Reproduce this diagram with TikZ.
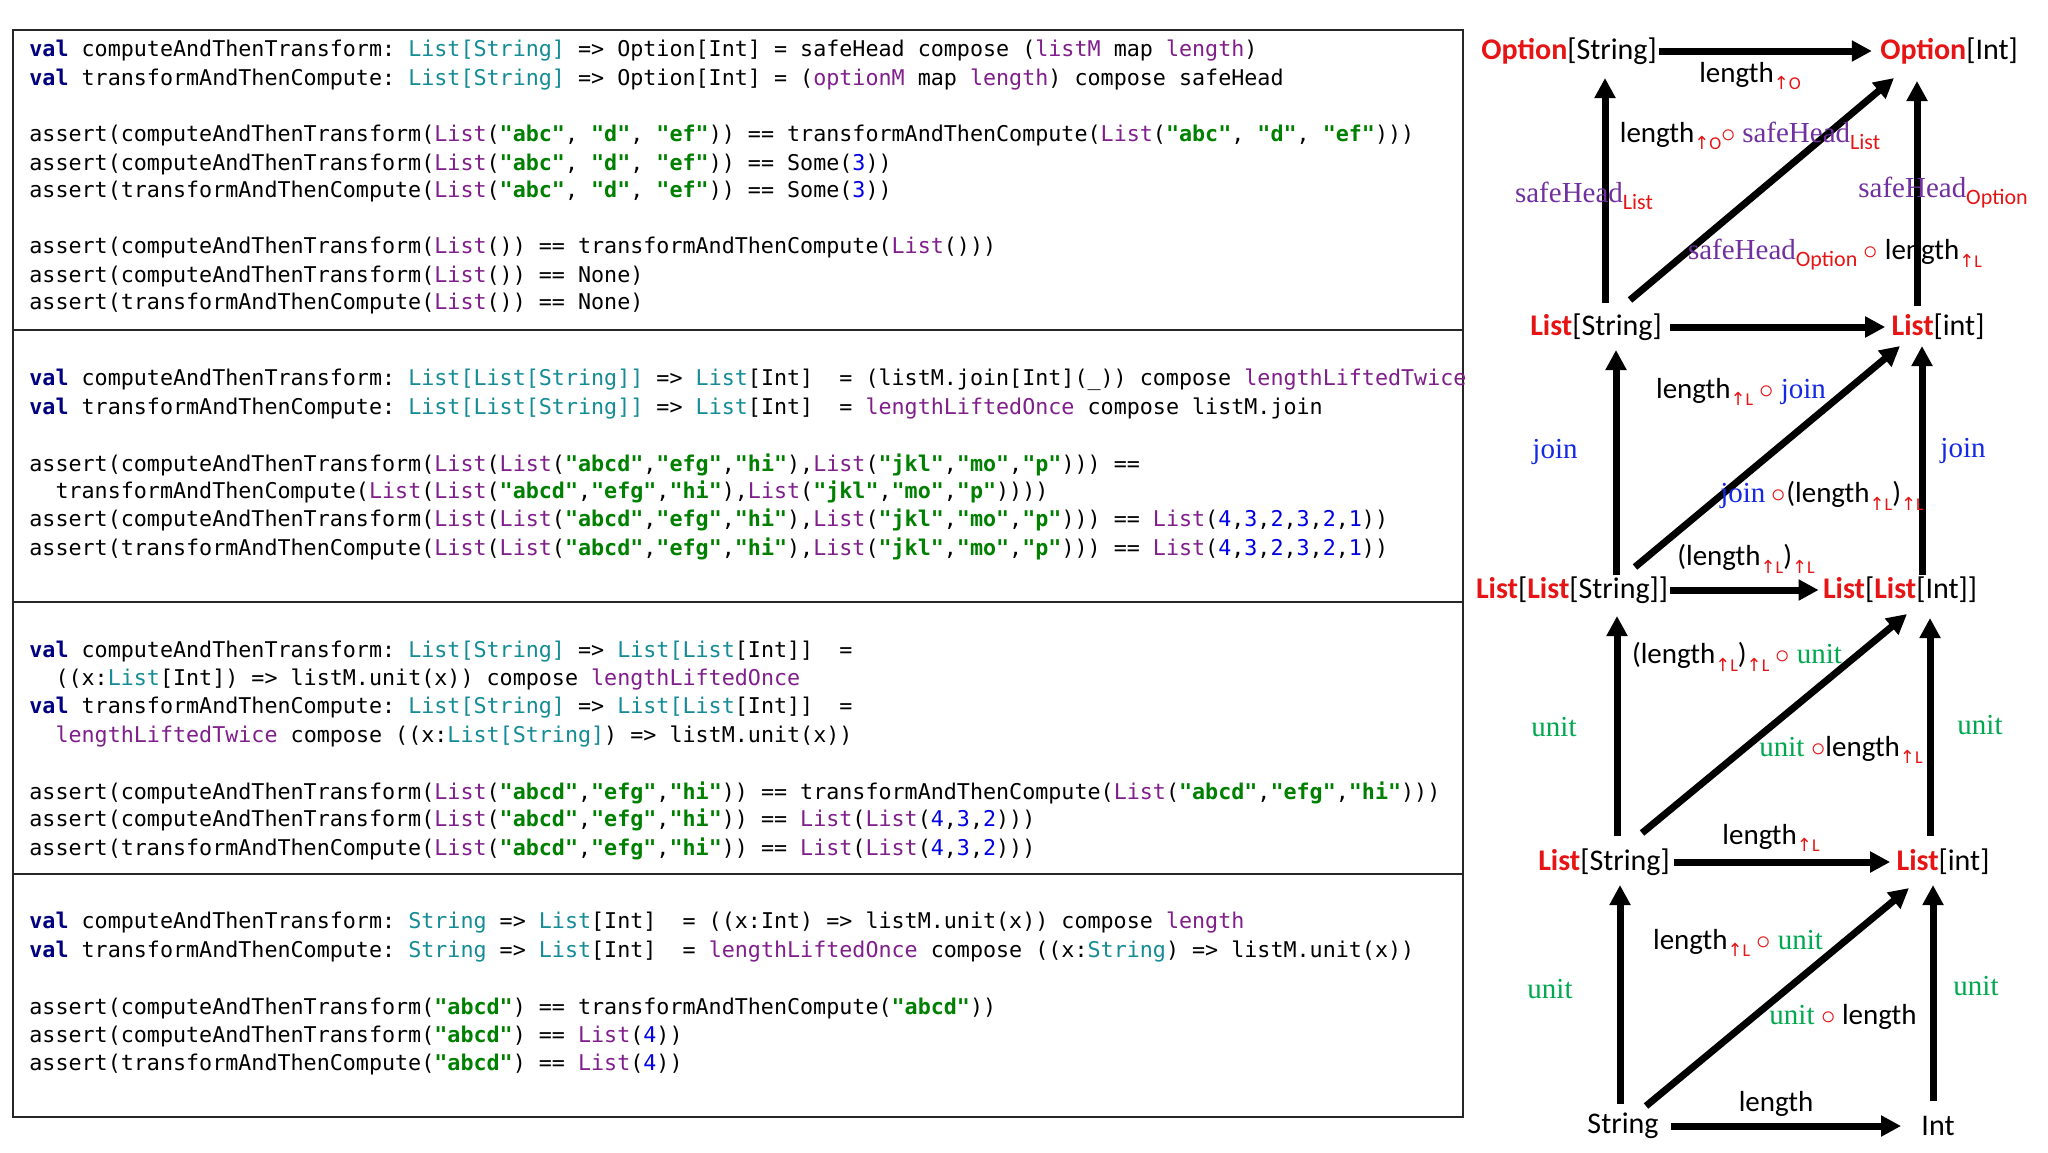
\documentclass[tikz,border=0pt]{standalone}
\usepackage{fontspec}
\usetikzlibrary{calc,arrows.meta}
\setmainfont{Carlito}
\setmonofont{DejaVu Sans Mono}
\newfontfamily\serifl{Liberation Serif}
\newfontfamily\djv{DejaVu Sans}
\definecolor{cred}{RGB}{230,20,20}
\definecolor{cpur}{RGB}{112,48,160}
\definecolor{cgrn}{RGB}{0,168,80}
\definecolor{cblu}{RGB}{20,40,230}
\definecolor{kval}{RGB}{0,0,128}
\definecolor{kty}{RGB}{20,140,150}
\definecolor{kpu}{RGB}{128,30,140}
\definecolor{kst}{RGB}{0,128,0}
\definecolor{knb}{RGB}{0,0,230}
\newcommand\kwv{\textcolor{kval}{\textbf{val}}}
\newcommand\ty[1]{\textcolor{kty}{#1}}
\newcommand\pp[1]{\textcolor{kpu}{#1}}
\newcommand\sg[1]{\textcolor{kst}{\textbf{#1}}}
\newcommand\nb[1]{\textcolor{knb}{#1}}
\newcommand\lift[1]{\raisebox{-0.55ex}{\textcolor{cred}{\fontsize{9}{9}\selectfont{\djv ↑}#1}}}
\newcommand\lsub[1]{\raisebox{-0.5ex}{\textcolor{cred}{\fontsize{11}{11}\selectfont #1}}}
\newcommand\cmp{\textcolor{cred}{$\circ$}}
\newcommand\rd[1]{\textbf{\textcolor{cred}{#1}}}
\newcommand\sv[2]{\textcolor{#1}{\serifl #2}}
\begin{document}
\begin{tikzpicture}[x=0.5pt,y=-0.5pt,
  code/.style={anchor=west,inner sep=0pt,font=\fontsize{10.85}{12}\ttfamily},
  tn/.style={inner sep=1pt,font=\fontsize{15}{17}\selectfont},
  lab/.style={inner sep=0pt,font=\fontsize{14.5}{16}\selectfont},
  arr/.style={line width=3.5pt,-{Triangle[length=10pt,width=10pt]}},
  box/.style={draw=black!85,line width=0.8pt}]
\useasboundingbox (0,0) rectangle (2048,1152);
\fill[white] (0,0) rectangle (2048,1152);
% boxes
\draw[box] (13,30) rectangle (1463,330);
\draw[box] (13,330) rectangle (1463,602);
\draw[box] (13,602) rectangle (1463,874);
\draw[box] (13,874) rectangle (1463,1117);
% box 1
\node[code] (c11) at (29,51) {\kwv{} computeAndThenTransform: \ty{List[String]} => Option[Int] = safeHead compose (\pp{listM} map \pp{length})};
\node[code] (c12) at (29,80) {\kwv{} transformAndThenCompute: \ty{List[String]} => Option[Int] = (\pp{optionM} map \pp{length}) compose safeHead};
\node[code] (c13) at (29,136) {assert(computeAndThenTransform(\pp{List}(\sg{"abc"}, \sg{"d"}, \sg{"ef"})) == transformAndThenCompute(\pp{List}(\sg{"abc"}, \sg{"d"}, \sg{"ef"})))};
\node[code] (c14) at (29,165) {assert(computeAndThenTransform(\pp{List}(\sg{"abc"}, \sg{"d"}, \sg{"ef"})) == Some(\nb{3}))};
\node[code] (c15) at (29,192) {assert(transformAndThenCompute(\pp{List}(\sg{"abc"}, \sg{"d"}, \sg{"ef"})) == Some(\nb{3}))};
\node[code] (c16) at (29,248) {assert(computeAndThenTransform(\pp{List}()) == transformAndThenCompute(\pp{List}()))};
\node[code] (c17) at (29,277) {assert(computeAndThenTransform(\pp{List}()) == None)};
\node[code] (c18) at (29,304) {assert(transformAndThenCompute(\pp{List}()) == None)};
% box 2
\node[code] (c21) at (29,380) {\kwv{} computeAndThenTransform: \ty{List[List[String]]} => \ty{List}[Int]\ \ = (listM.join[Int](\_)) compose \pp{lengthLiftedTwice}};
\node[code] (c22) at (29,409) {\kwv{} transformAndThenCompute: \ty{List[List[String]]} => \ty{List}[Int]\ \ = \pp{lengthLiftedOnce} compose listM.join};
\node[code] (c23) at (29,465) {assert(computeAndThenTransform(\pp{List}(\pp{List}(\sg{"abcd"},\sg{"efg"},\sg{"hi"}),\pp{List}(\sg{"jkl"},\sg{"mo"},\sg{"p"}))) ==};
\node[code] (c24) at (29,492) {\ \ transformAndThenCompute(\pp{List}(\pp{List}(\sg{"abcd"},\sg{"efg"},\sg{"hi"}),\pp{List}(\sg{"jkl"},\sg{"mo"},\sg{"p"}))))};
\node[code] (c25) at (29,520) {assert(computeAndThenTransform(\pp{List}(\pp{List}(\sg{"abcd"},\sg{"efg"},\sg{"hi"}),\pp{List}(\sg{"jkl"},\sg{"mo"},\sg{"p"}))) == \pp{List}(\nb{4},\nb{3},\nb{2},\nb{3},\nb{2},\nb{1}))};
\node[code] (c26) at (29,549) {assert(transformAndThenCompute(\pp{List}(\pp{List}(\sg{"abcd"},\sg{"efg"},\sg{"hi"}),\pp{List}(\sg{"jkl"},\sg{"mo"},\sg{"p"}))) == \pp{List}(\nb{4},\nb{3},\nb{2},\nb{3},\nb{2},\nb{1}))};
% box 3
\node[code] (c31) at (29,652) {\kwv{} computeAndThenTransform: \ty{List[String]} => \ty{List[List}[Int]]\ \ =};
\node[code] (c32) at (29,680) {\ \ ((x:\ty{List}[Int]) => listM.unit(x)) compose \pp{lengthLiftedOnce}};
\node[code] (c33) at (29,708) {\kwv{} transformAndThenCompute: \ty{List[String]} => \ty{List[List}[Int]]\ \ =};
\node[code] (c34) at (29,737) {\ \ \pp{lengthLiftedTwice} compose ((x:\ty{List[String]}) => listM.unit(x))};
\node[code] (c35) at (29,793) {assert(computeAndThenTransform(\pp{List}(\sg{"abcd"},\sg{"efg"},\sg{"hi"})) == transformAndThenCompute(\pp{List}(\sg{"abcd"},\sg{"efg"},\sg{"hi"})))};
\node[code] (c36) at (29,820) {assert(computeAndThenTransform(\pp{List}(\sg{"abcd"},\sg{"efg"},\sg{"hi"})) == \pp{List}(\pp{List}(\nb{4},\nb{3},\nb{2})))};
\node[code] (c37) at (29,849) {assert(transformAndThenCompute(\pp{List}(\sg{"abcd"},\sg{"efg"},\sg{"hi"})) == \pp{List}(\pp{List}(\nb{4},\nb{3},\nb{2})))};
% box 4
\node[code] (c41) at (29,923) {\kwv{} computeAndThenTransform: \ty{String} => \ty{List}[Int]\ \ = ((x:Int) => listM.unit(x)) compose \pp{length}};
\node[code] (c42) at (29,952) {\kwv{} transformAndThenCompute: \ty{String} => \ty{List}[Int]\ \ = \pp{lengthLiftedOnce} compose ((x:\ty{String}) => listM.unit(x))};
\node[code] (c43) at (29,1008) {assert(computeAndThenTransform(\sg{"abcd"}) == transformAndThenCompute(\sg{"abcd"}))};
\node[code] (c44) at (29,1036) {assert(computeAndThenTransform(\sg{"abcd"}) == \pp{List}(\nb{4}))};
\node[code] (c45) at (29,1064) {assert(transformAndThenCompute(\sg{"abcd"}) == \pp{List}(\nb{4}))};
% diagram nodes
\node[tn] (os) at (1569,51) {\rd{Option}[String]};
\node[tn] (oi) at (1949,51) {\rd{Option}[Int]};
\node[tn] (ls1) at (1596,327) {\rd{List}[String]};
\node[tn] (li1) at (1938,327) {\rd{List}[int]};
\node[tn] (lls) at (1572,590) {\rd{List}[\rd{List}[String]]};
\node[tn] (lli) at (1900,590) {\rd{List}[\rd{List}[Int]]};
\node[tn] (ls2) at (1604,862) {\rd{List}[String]};
\node[tn] (li2) at (1943,862) {\rd{List}[int]};
\node[tn] (s) at (1623,1126) {String};
\node[tn] (i) at (1938,1126) {Int};
% arrows row 1-2
\draw[arr] (os.east) -- ($(oi.west)+(-6,0)$);
\draw[arr] ($(ls1)+(9,-24)$) -- ($(os)+(36,27)$);
\draw[arr] ($(li1)+(-21,-21)$) -- ($(oi)+(-32,30)$);
\draw[arr] ($(ls1)+(34,-27)$) -- ($(oi)+(-55,27)$);
\draw[arr] ($(ls1.east)+(6,0)$) -- ($(li1.west)+(-4,0)$);
% rows 2-3
\draw[arr] ($(lls)+(44,-15)$) -- ($(ls1)+(20,23)$);
\draw[arr] ($(lli)+(22,-15)$) -- ($(li1)+(-16,19)$);
\draw[arr] ($(lls)+(63,-23)$) -- ($(li1)+(-38,19)$);
\draw[arr] (lls.east) -- ($(lli.west)+(-2,0)$);
% rows 3-4
\draw[arr] ($(ls2)+(13,-26)$) -- ($(lls)+(45,26)$);
\draw[arr] ($(li2)+(-13,-26)$) -- ($(lli)+(30,28)$);
\draw[arr] ($(ls2)+(38,-29)$) -- ($(lli)+(7,24)$);
\draw[arr] ($(ls2.east)+(2,0)$) -- ($(li2.west)+(-4,0)$);
% rows 4-5
\draw[arr] ($(s)+(-3,-22)$) -- ($(ls2)+(16,23)$);
\draw[arr] ($(i)+(-5,-25)$) -- ($(li2)+(-10,23)$);
\draw[arr] ($(s)+(23,-20)$) -- ($(li2)+(-34,26)$);
\draw[arr] ($(s.east)+(10,0)$) -- ($(i.west)+(-18,0)$);
% labels
\node[lab] (t1) at (1750,76) {length\lift{O}};
\node[lab] (t2) at (1750,136) {length\lift{O}\cmp{} \sv{cpur}{safeHead}\lsub{List}};
\node[lab] (t3) at (1584,196) {\sv{cpur}{safeHead}\lsub{List}};
\node[lab] (t4) at (1943,193) {\sv{cpur}{safeHead}\lsub{Option}};
\node[lab] (t5) at (1835,255) {\sv{cpur}{safeHead}\lsub{Option} \cmp{} length\lift{L}};
\node[lab] (t6) at (1741,392) {length\lift{L} \cmp{} \sv{cblu}{join}};
\node[lab] (t7) at (1555,452) {\sv{cblu}{join}};
\node[lab] (t8) at (1963,451) {\sv{cblu}{join}};
\node[lab] (t9) at (1822,496) {\sv{cblu}{join} \cmp(length\lift{L})\lift{L}};
\node[lab] (t10) at (1746,559) {(length\lift{L})\lift{L}};
\node[lab] (t11) at (1737,657) {(length\lift{L})\lift{L} \cmp{} \sv{cgrn}{unit}};
\node[lab] (t12) at (1554,727) {\sv{cgrn}{unit}};
\node[lab] (t13) at (1980,725) {\sv{cgrn}{unit}};
\node[lab] (t14) at (1841,750) {\sv{cgrn}{unit} \cmp{}length\lift{L}};
\node[lab] (t15) at (1771,838) {length\lift{L}};
\node[lab] (t16) at (1738,943) {length\lift{L} \cmp{} \sv{cgrn}{unit}};
\node[lab] (t17) at (1550,989) {\sv{cgrn}{unit}};
\node[lab] (t18) at (1976,986) {\sv{cgrn}{unit}};
\node[lab] (t19) at (1843,1017) {\sv{cgrn}{unit} \cmp{} length};
\node[lab] (t20) at (1776,1104) {length};
\end{tikzpicture}
\end{document}
